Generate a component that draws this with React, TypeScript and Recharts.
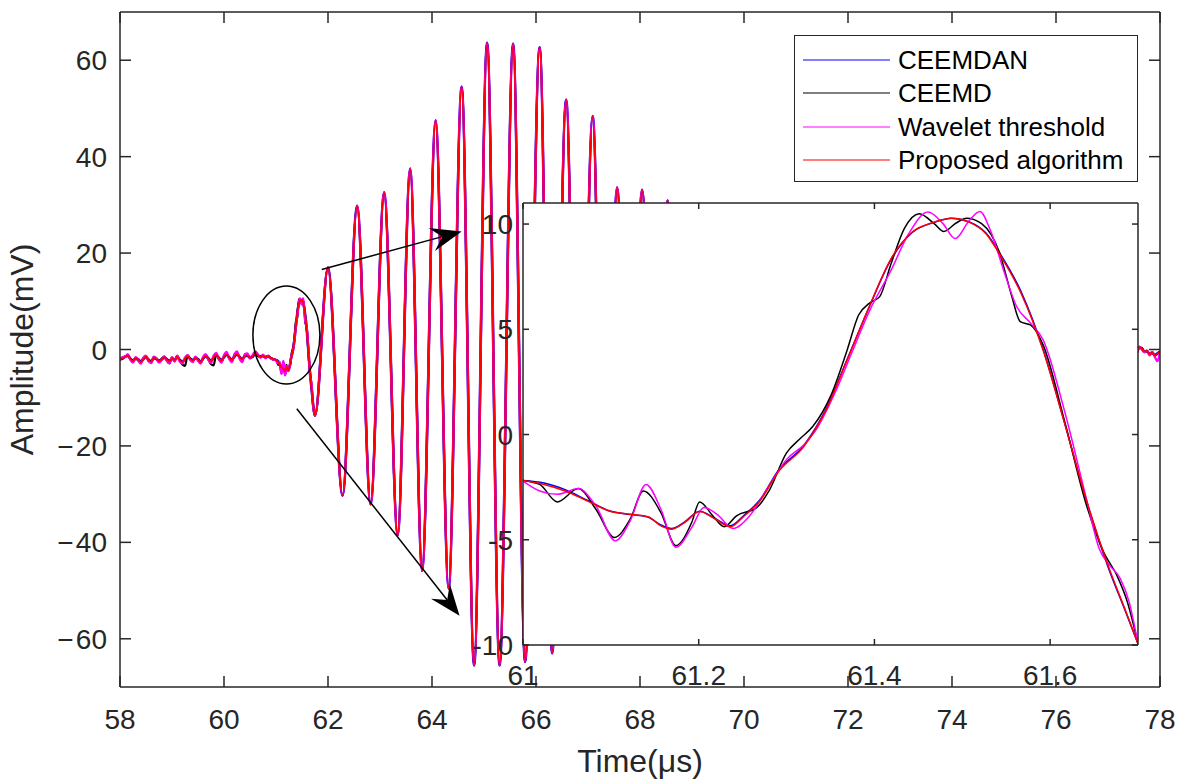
import React from 'react';
import { LineChart, Line, XAxis, YAxis, ReferenceDot, ReferenceLine, Legend, CartesianGrid, Label } from 'recharts';

const FONT = '"Liberation Sans", Arial, Helvetica, sans-serif';
const AXIS_COLOR = '#262626';

const seriesNames = ['CEEMDAN', 'CEEMD', 'Wavelet threshold', 'Proposed algorithm'];
const seriesColors = ['#0000ff', '#000000', '#ff00ff', '#ff0000'];

const mainXTicks = [58, 60, 62, 64, 66, 68, 70, 72, 74, 76, 78];
const mainYTicks = [-60, -40, -20, 0, 20, 40, 60];
const insetXTicks = [61, 61.2, 61.4, 61.6];
const insetYTicks = [-10, -5, 0, 5, 10];

// pre-arrival noise, sampled every 0.05 us from 58.00 to 60.95
const baselineCeemdan = [
  -2.0, -1.9, -1.5, -1.3, -1.9, -2.3, -1.9, -2.0, -2.5, -2.0,
  -1.6, -2.1, -2.4, -1.8, -1.9, -2.3, -2.1, -1.7, -2.0, -2.4,
  -1.9, -2.1, -1.6, -2.2, -2.5, -2.0, -1.5, -1.9, -2.2, -1.8,
  -2.0, -2.5, -1.9, -1.4, -1.8, -2.4, -1.7, -1.2, -1.7, -2.2,
  -1.6, -1.1, -1.6, -2.1, -1.5, -1.0, -1.5, -2.0, -1.4, -1.3,
  -1.6, -1.5, -0.8, -1.3, -1.4, -1.4, -1.5, -1.5, -1.8, -2.0,
];
const baselineCeemd = [
  -2.2, -1.7, -1.4, -1.3, -2.0, -2.6, -1.7, -2.3, -2.8, -1.8,
  -1.4, -2.4, -2.7, -1.6, -2.0, -2.6, -1.9, -1.5, -2.3, -2.9,
  -1.7, -2.4, -1.3, -2.2, -3.1, -3.4, -1.2, -1.9, -2.5, -1.6,
  -2.2, -2.8, -1.7, -1.2, -2.1, -3.0, -3.3, -1.0, -1.9, -2.6,
  -1.4, -0.9, -1.8, -2.4, -1.3, -0.8, -1.7, -2.3, -1.2, -1.1,
  -1.8, -1.5, -0.6, -1.3, -1.6, -1.2, -1.7, -1.3, -1.8, -2.1,
];
const baselineWavelet = [
  -2.0, -1.6, -1.5, -1.0, -2.1, -2.7, -1.6, -2.2, -2.9, -1.7,
  -1.3, -2.4, -2.8, -1.5, -1.8, -2.7, -2.2, -1.4, -2.3, -2.8,
  -1.6, -2.5, -1.3, -2.5, -2.9, -1.7, -1.2, -2.2, -2.6, -1.5,
  -2.3, -2.9, -1.5, -1.0, -2.1, -2.8, -1.3, -0.7, -2.0, -2.7,
  -1.2, -0.5, -1.9, -2.6, -1.0, -0.4, -1.9, -2.6, -1.0, -0.8,
  -1.9, -1.2, -0.4, -1.0, -1.7, -1.1, -1.8, -1.3, -1.9, -2.1,
];
const baselineProposed = [
  -2.1, -1.8, -1.6, -1.2, -1.9, -2.4, -1.8, -2.1, -2.6, -1.9,
  -1.5, -2.2, -2.5, -1.7, -1.9, -2.4, -2.0, -1.6, -2.1, -2.5,
  -1.8, -2.2, -1.5, -2.3, -2.6, -1.9, -1.4, -2.0, -2.3, -1.7,
  -2.1, -2.6, -1.8, -1.3, -1.9, -2.5, -1.6, -1.1, -1.8, -2.3,
  -1.5, -1.0, -1.7, -2.2, -1.4, -0.9, -1.6, -2.1, -1.3, -1.2,
  -1.7, -1.4, -0.7, -1.2, -1.5, -1.3, -1.6, -1.4, -1.7, -2.0,
];
const baselineTime = baselineProposed.map((_, i) => +(58 + i * 0.05).toFixed(2));

// zoomed first arrival (61.0 - 61.7 us)
const ceemdanInsetTime = [61.000, 61.024, 61.048, 61.073, 61.098, 61.122, 61.142, 61.157, 61.169, 61.184, 61.201, 61.219, 61.236, 61.251, 61.271, 61.290, 61.320, 61.345, 61.369, 61.394, 61.419, 61.443, 61.468, 61.488, 61.508, 61.527, 61.542, 61.567, 61.592, 61.616, 61.641, 61.666, 61.685, 61.700];
const ceemdanInsetValue = [-2.18, -2.30, -2.62, -3.12, -3.62, -3.80, -3.92, -4.30, -4.47, -4.15, -3.64, -4.00, -4.34, -3.86, -3.02, -1.74, -0.50, 1.22, 3.58, 6.05, 8.32, 9.60, 10.08, 10.27, 10.10, 9.57, 8.66, 6.78, 4.05, 0.62, -3.10, -6.30, -8.32, -9.94];

const ceemdInsetTime = [61.000, 61.019, 61.039, 61.063, 61.083, 61.104, 61.122, 61.137, 61.157, 61.174, 61.192, 61.201, 61.216, 61.229, 61.243, 61.266, 61.280, 61.300, 61.315, 61.330, 61.350, 61.369, 61.382, 61.394, 61.406, 61.419, 61.434, 61.451, 61.468, 61.479, 61.493, 61.505, 61.522, 61.542, 61.556, 61.566, 61.578, 61.592, 61.616, 61.641, 61.661, 61.676, 61.688, 61.700];
const ceemdInsetValue = [-2.18, -2.37, -3.20, -2.57, -3.55, -4.89, -4.02, -2.68, -3.71, -5.28, -4.18, -3.20, -3.86, -4.38, -3.86, -3.47, -2.68, -0.87, -0.21, 0.39, 1.81, 4.02, 5.68, 6.23, 6.55, 8.12, 9.78, 10.49, 10.02, 9.65, 10.05, 10.28, 10.02, 8.68, 6.62, 5.36, 5.20, 4.26, 0.71, -3.31, -5.60, -6.70, -7.97, -9.94];

const waveletInsetTime = [61.000, 61.019, 61.039, 61.063, 61.083, 61.105, 61.122, 61.140, 61.157, 61.174, 61.192, 61.206, 61.221, 61.239, 61.258, 61.280, 61.300, 61.320, 61.335, 61.355, 61.374, 61.394, 61.419, 61.439, 61.461, 61.478, 61.492, 61.508, 61.520, 61.532, 61.547, 61.562, 61.578, 61.592, 61.616, 61.641, 61.656, 61.668, 61.680, 61.690, 61.700];
const waveletInsetValue = [-2.21, -2.68, -2.84, -2.57, -3.39, -5.05, -4.10, -2.37, -3.55, -5.36, -4.42, -3.47, -3.79, -4.46, -3.86, -2.44, -1.18, -0.47, 0.32, 1.97, 3.86, 5.84, 7.81, 9.54, 10.57, 10.02, 9.31, 10.17, 10.60, 9.70, 7.81, 6.07, 5.28, 4.50, 1.18, -3.00, -5.44, -6.23, -6.86, -7.97, -9.94];

const proposedInsetTime = [61.000, 61.024, 61.048, 61.073, 61.098, 61.122, 61.142, 61.157, 61.169, 61.184, 61.201, 61.219, 61.236, 61.251, 61.271, 61.290, 61.320, 61.345, 61.369, 61.394, 61.419, 61.443, 61.468, 61.488, 61.508, 61.527, 61.542, 61.567, 61.592, 61.616, 61.641, 61.666, 61.685, 61.700];
const proposedInsetValue = [-2.18, -2.37, -2.68, -3.15, -3.63, -3.79, -3.90, -4.34, -4.50, -4.18, -3.66, -4.02, -4.38, -3.90, -3.08, -1.81, -0.55, 1.18, 3.55, 6.07, 8.36, 9.62, 10.09, 10.28, 10.09, 9.54, 8.60, 6.70, 4.00, 0.60, -3.08, -6.23, -8.28, -9.94];

// main burst (extremes), common to all four denoised signals
const burstTime = [61.75, 62.00, 62.28, 62.56, 62.82, 63.08, 63.34, 63.58, 63.81, 64.07, 64.32, 64.57, 64.81, 65.06, 65.30, 65.56, 65.79, 66.07, 66.31, 66.58, 66.82, 67.09, 67.32, 67.56, 67.80, 68.04, 68.29, 68.53, 68.78, 69.03, 69.28, 69.53, 69.78, 70.03, 70.28, 70.53, 70.78, 71.03, 71.28, 71.53, 71.78, 72.03, 72.28, 72.53, 73.0, 73.5, 74.0, 74.5, 75.0, 75.5, 76.0, 76.5, 77.0, 77.5];
const burstValue = [-13.7, 17.0, -30.3, 29.8, -32.1, 32.6, -38.5, 37.5, -45.9, 47.5, -49.6, 54.5, -65.5, 63.6, -65.5, 63.4, -64.8, 62.7, -63.0, 51.8, -55.0, 48.4, -47.0, 33.6, -38.0, 33.1, -33.0, 30.9, -28.0, 24.0, -21.0, 17.0, -14.0, 11.0, -9.0, 7.0, -6.0, 4.5, -4.5, 3.0, -3.5, 2.0, -3.0, 1.0, -1.5, 0.0, -2.0, -0.5, -1.8, -0.6, -1.6, -0.8, -1.5, -1.0];

// trailing noise
const tailTime = [77.55, 77.6, 77.65, 77.7, 77.75, 77.8, 77.85, 77.9, 77.95, 78.0];
const tailCeemdan = [-0.8, 0.5, 0.2, -0.4, -0.3, -1.0, -0.6, -1.2, -0.8, -0.5];
const tailCeemd = [-0.7, 0.4, 0.3, -0.5, -0.4, -0.9, -0.7, -1.2, -0.9, -0.4];
const tailWavelet = [-0.9, 0.6, 0.0, -0.6, -0.2, -1.2, -0.5, -1.5, -2.4, -0.6];
const tailProposed = [-0.8, 0.5, 0.2, -0.4, -0.3, -1.0, -0.6, -1.3, -0.8, -0.5];

type Pt = { t: number; v: number };
const zip = (ts: number[], vs: number[]): Pt[] => ts.map((t, i) => ({ t, v: vs[i] }));

const insetSeries = [
  zip(ceemdanInsetTime, ceemdanInsetValue),
  zip(ceemdInsetTime, ceemdInsetValue),
  zip(waveletInsetTime, waveletInsetValue),
  zip(proposedInsetTime, proposedInsetValue),
];
const baselines = [baselineCeemdan, baselineCeemd, baselineWavelet, baselineProposed];
const tails = [tailCeemdan, tailCeemd, tailWavelet, tailProposed];
const mainSeries = insetSeries.map((ins, i) => [
  ...zip(baselineTime, baselines[i]),
  ...ins,
  ...zip(burstTime, burstValue),
  ...zip(tailTime, tails[i]),
]);

const mainWidths = [2.6, 2.2, 2.4, 1.8];

const fmtMainY = (v: number) => (v < 0 ? `\u2212\u200A${-v}` : `${v}`);

const makeTick = (side: 'bottom' | 'top' | 'left' | 'right', len: number, opts?: { fmt?: (v: number) => string; off?: number; size?: number }) =>
  (props: any) => {
    const { x, y, payload } = props;
    let line;
    if (side === 'bottom') line = <line x1={x} y1={y} x2={x} y2={y - len} stroke={AXIS_COLOR} strokeWidth={1.5} />;
    else if (side === 'top') line = <line x1={x} y1={y} x2={x} y2={y + len} stroke={AXIS_COLOR} strokeWidth={1.5} />;
    else if (side === 'left') line = <line x1={x} y1={y} x2={x + len} y2={y} stroke={AXIS_COLOR} strokeWidth={1.5} />;
    else line = <line x1={x} y1={y} x2={x - len} y2={y} stroke={AXIS_COLOR} strokeWidth={1.5} />;
    let label = null;
    if (opts && opts.fmt) {
      const txt = opts.fmt(payload.value);
      if (side === 'bottom')
        label = <text x={x} y={y + (opts.off || 0)} textAnchor="middle" fill={AXIS_COLOR} fontSize={opts.size || 28} fontFamily={FONT}>{txt}</text>;
      else
        label = <text x={x - (opts.off || 0)} y={y} dy="0.36em" textAnchor="end" fill={AXIS_COLOR} fontSize={opts.size || 28} fontFamily={FONT}>{txt}</text>;
    }
    return <g>{line}{label}</g>;
  };

const YTitle = (props: any) => {
  const vb = props.viewBox || { x: 0, y: 12, width: 120, height: 675 };
  const cx = 33;
  const cy = vb.y + vb.height / 2;
  return (
    <text x={cx} y={cy} transform={`rotate(-90, ${cx}, ${cy})`} textAnchor="middle" fill={AXIS_COLOR} fontSize={32} fontFamily={FONT}>
      Amplitude(mV)
    </text>
  );
};

const XTitle = (props: any) => {
  const vb = props.viewBox || { x: 120, y: 687, width: 1040, height: 94 };
  return (
    <text x={vb.x + vb.width / 2} y={vb.y + 85} textAnchor="middle" fill={AXIS_COLOR} fontSize={32} fontFamily={FONT}>
      Time(μs)
    </text>
  );
};

const Arrow = (p: any) => {
  const { x1, y1, x2, y2 } = p;
  const dx = x2 - x1;
  const dy = y2 - y1;
  const len = Math.hypot(dx, dy) || 1;
  const ux = dx / len;
  const uy = dy / len;
  const nx = -uy;
  const ny = ux;
  const L = 31;
  const W = 12;
  const N = 20;
  const bx = x2 - ux * L;
  const by = y2 - uy * L;
  const pts = [
    [x2, y2],
    [bx + nx * W, by + ny * W],
    [x2 - ux * N, y2 - uy * N],
    [bx - nx * W, by - ny * W],
  ]
    .map((q) => q.join(','))
    .join(' ');
  return (
    <g>
      <line x1={x1} y1={y1} x2={x2 - ux * N} y2={y2 - uy * N} stroke="#000" strokeWidth={1.5} />
      <polygon points={pts} fill="#000" />
    </g>
  );
};

const Ellipse = (p: any) => <ellipse cx={p.cx} cy={p.cy} rx={33.5} ry={49} fill="none" stroke="#000" strokeWidth={1.5} />;

const LegendBox = () => (
  <div
    style={{
      width: 344,
      height: 147,
      boxSizing: 'border-box',
      border: `1px solid ${AXIS_COLOR}`,
      background: '#fff',
      position: 'relative',
      fontFamily: FONT,
    }}
  >
    {seriesNames.map((name, i) => (
      <div
        key={name}
        style={{ position: 'absolute', left: 0, top: 8 + i * 33.33, height: 32, display: 'flex', alignItems: 'center' }}
      >
        <svg width={100} height={32} style={{ display: 'block' }}>
          <line x1={8} x2={95} y1={16} y2={16} stroke={seriesColors[i]} strokeWidth={1.2} />
        </svg>
        <span style={{ fontSize: 26, color: '#000', marginLeft: 3, lineHeight: '32px', whiteSpace: 'nowrap' }}>{name}</span>
      </div>
    ))}
  </div>
);

export default function App() {
  return (
    <div style={{ position: 'absolute', left: 0, top: 0, width: 1185, height: 781, background: '#fff' }}>
      <div style={{ position: 'absolute', left: 0, top: 0 }}>
        <LineChart width={1185} height={781} margin={{ top: 11, right: 24, bottom: 0, left: 0 }}>
          <XAxis
            xAxisId={0}
            type="number"
            dataKey="t"
            domain={[58, 78]}
            ticks={mainXTicks}
            allowDataOverflow
            height={94}
            tickSize={0}
            tickMargin={0}
            tickLine={false}
            axisLine={{ stroke: AXIS_COLOR, strokeWidth: 1.5 }}
            tick={makeTick('bottom', 11, { fmt: (v) => `${v}`, off: 42 })}
            interval={0}
          >
            <Label content={XTitle} />
          </XAxis>
          <XAxis
            xAxisId="top"
            orientation="top"
            type="number"
            dataKey="t"
            domain={[58, 78]}
            ticks={mainXTicks}
            allowDataOverflow
            height={1}
            tickSize={0}
            tickMargin={0}
            tickLine={false}
            axisLine={{ stroke: AXIS_COLOR, strokeWidth: 1.5 }}
            tick={makeTick('top', 11)}
            interval={0}
          />
          <YAxis
            yAxisId={0}
            type="number"
            domain={[-70, 70]}
            ticks={mainYTicks}
            allowDataOverflow
            width={120}
            tickSize={0}
            tickMargin={0}
            tickLine={false}
            axisLine={{ stroke: AXIS_COLOR, strokeWidth: 1.5 }}
            tick={makeTick('left', 11, { fmt: fmtMainY, off: 13 })}
            interval={0}
          >
            <Label content={YTitle} />
          </YAxis>
          <YAxis
            yAxisId="right"
            orientation="right"
            type="number"
            domain={[-70, 70]}
            ticks={mainYTicks}
            allowDataOverflow
            width={1}
            tickSize={0}
            tickMargin={0}
            tickLine={false}
            axisLine={{ stroke: AXIS_COLOR, strokeWidth: 1.5 }}
            tick={makeTick('right', 11)}
            interval={0}
          />
          {mainSeries.map((d, i) => (
            <Line
              key={seriesNames[i]}
              name={seriesNames[i]}
              data={d}
              dataKey="v"
              type="monotone"
              stroke={seriesColors[i]}
              strokeWidth={mainWidths[i]}
              dot={false}
              activeDot={false}
              isAnimationActive={false}
            />
          ))}
          <ReferenceDot x={61.2} y={3} r={0} shape={Ellipse} />
          <ReferenceLine segment={[{ x: 61.88, y: 16.6 }, { x: 64.57, y: 24.5 }]} shape={Arrow} />
          <ReferenceLine segment={[{ x: 61.4, y: -12.3 }, { x: 64.53, y: -55.2 }]} shape={Arrow} />
          <Legend
            layout="vertical"
            align="center"
            verticalAlign="middle"
            content={LegendBox}
            wrapperStyle={{ position: 'absolute', left: 794, top: 35, width: 344, height: 147 }}
          />
        </LineChart>
      </div>
      <div style={{ position: 'absolute', left: 440, top: 190 }}>
        <LineChart width={720} height={520} margin={{ top: 12, right: 21, bottom: 25, left: 0 }}>
          <CartesianGrid horizontal={false} vertical={false} fill="#ffffff" fillOpacity={1} stroke="none" />
          <XAxis
            xAxisId={0}
            type="number"
            dataKey="t"
            domain={[61, 61.7]}
            ticks={insetXTicks}
            allowDataOverflow
            height={40}
            tickSize={0}
            tickMargin={0}
            tickLine={false}
            axisLine={{ stroke: AXIS_COLOR, strokeWidth: 1.5 }}
            tick={makeTick('bottom', 6, { fmt: (v) => `${v}`, off: 40 })}
            interval={0}
          />
          <XAxis
            xAxisId="top"
            orientation="top"
            type="number"
            dataKey="t"
            domain={[61, 61.7]}
            ticks={insetXTicks}
            allowDataOverflow
            height={1}
            tickSize={0}
            tickMargin={0}
            tickLine={false}
            axisLine={{ stroke: AXIS_COLOR, strokeWidth: 1.5 }}
            tick={makeTick('top', 6)}
            interval={0}
          />
          <YAxis
            yAxisId={0}
            type="number"
            domain={[-10, 11]}
            ticks={insetYTicks}
            allowDataOverflow
            width={83}
            tickSize={0}
            tickMargin={0}
            tickLine={false}
            axisLine={{ stroke: AXIS_COLOR, strokeWidth: 1.5 }}
            tick={makeTick('left', 6, { fmt: (v) => `${v}`, off: 10 })}
            interval={0}
          />
          <YAxis
            yAxisId="right"
            orientation="right"
            type="number"
            domain={[-10, 11]}
            ticks={insetYTicks}
            allowDataOverflow
            width={1}
            tickSize={0}
            tickMargin={0}
            tickLine={false}
            axisLine={{ stroke: AXIS_COLOR, strokeWidth: 1.5 }}
            tick={makeTick('right', 6)}
            interval={0}
          />
          {insetSeries.map((d, i) => (
            <Line
              key={seriesNames[i]}
              name={seriesNames[i]}
              data={d}
              dataKey="v"
              type="monotone"
              stroke={seriesColors[i]}
              strokeWidth={1.5}
              dot={false}
              activeDot={false}
              isAnimationActive={false}
            />
          ))}
        </LineChart>
      </div>
    </div>
  );
}
